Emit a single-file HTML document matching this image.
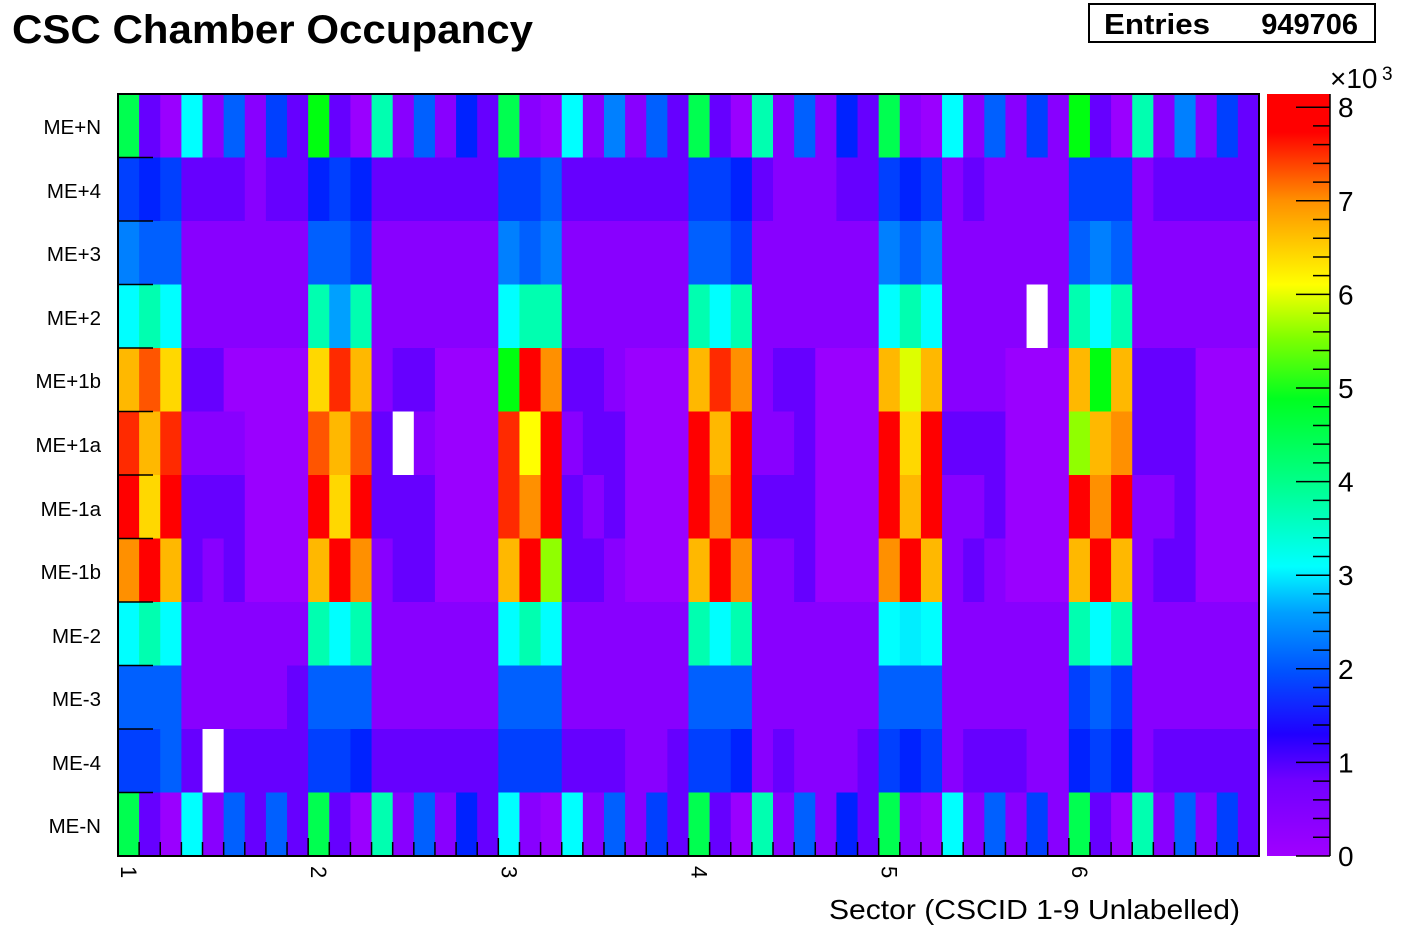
<!DOCTYPE html>
<html><head><meta charset="utf-8"><style>
body{margin:0;background:#fff;width:1402px;height:944px;overflow:hidden;font-family:"Liberation Sans",sans-serif;}
</style></head><body>
<svg id="s" width="1402" height="944" xmlns="http://www.w3.org/2000/svg" font-family="Liberation Sans, sans-serif">
<defs>
<linearGradient id="pal" x1="0" y1="1" x2="0" y2="0">
<stop offset="0" stop-color="#a000ff"/>
<stop offset="0.1" stop-color="#7000ff"/>
<stop offset="0.16" stop-color="#2000ff"/>
<stop offset="0.24" stop-color="#0050ff"/>
<stop offset="0.32" stop-color="#00a0ff"/>
<stop offset="0.38" stop-color="#00ffff"/>
<stop offset="0.5" stop-color="#00ff80"/>
<stop offset="0.6" stop-color="#00ff20"/>
<stop offset="0.68" stop-color="#80ff00"/>
<stop offset="0.75" stop-color="#ffff00"/>
<stop offset="0.86" stop-color="#ff9000"/>
<stop offset="0.92" stop-color="#ff3000"/>
<stop offset="0.95" stop-color="#ff0000"/>
<stop offset="1" stop-color="#ff0000"/>
</linearGradient>
</defs>
<g id="cells"></g>
<g id="ticks" stroke="#000" stroke-width="1.5"></g>
<rect x="118" y="94" width="1141" height="762" fill="none" stroke="#000" stroke-width="2"/>
<text x="12" y="43" font-size="40" font-weight="bold" textLength="521" lengthAdjust="spacingAndGlyphs">CSC Chamber Occupancy</text>
<rect x="1089" y="4" width="286" height="38" fill="#fff" stroke="#000" stroke-width="2"/>
<text x="1104" y="34" font-size="29" font-weight="bold" textLength="106" lengthAdjust="spacingAndGlyphs">Entries</text>
<text x="1358" y="34" font-size="29" font-weight="bold" text-anchor="end">949706</text>
<g font-size="20.5" text-anchor="end">
<text x="101" y="134">ME+N</text><text x="101" y="198">ME+4</text><text x="101" y="261">ME+3</text><text x="101" y="325">ME+2</text>
<text x="101" y="388">ME+1b</text><text x="101" y="452">ME+1a</text><text x="101" y="516">ME-1a</text><text x="101" y="579">ME-1b</text>
<text x="101" y="643">ME-2</text><text x="101" y="706">ME-3</text><text x="101" y="770">ME-4</text><text x="101" y="833">ME-N</text>
</g>
<g font-size="22" id="xl"></g>
<text x="829" y="919" font-size="28" textLength="411" lengthAdjust="spacingAndGlyphs">Sector (CSCID 1-9 Unlabelled)</text>
<rect x="1267" y="94" width="63" height="762" fill="url(#pal)"/>
<line x1="1330" y1="94" x2="1330" y2="856" stroke="#000" stroke-width="1.5"/>
<g id="pt" stroke="#000" stroke-width="1.5"></g>
<g font-size="28" id="pl"></g>
<text x="1330" y="88" font-size="28">×10</text><text x="1382" y="80" font-size="19">3</text>
</svg>
<script>
var C={a:'#9a00ff',b:'#8800ff',c:'#6600ff',d:'#0022ff',e:'#0040ff',f:'#0060ff',g:'#0080ff',x:'#00a0ff',z:'#00eeff',
h:'#00ffff',i:'#00ffb0',j:'#00ff50',k:'#00ff10',l:'#90ff00',y:'#ddff00',m:'#ffff00',n:'#ffd800',o:'#ffb800',p:'#ff9000',
q:'#ff5500',r:'#ff2a00',s:'#ff0000',w:'#ffffff'};
var S=[
["jcahbfbec","edecccbcc","gffbbbbbb","hihbbbbbb","oqnccaaaa","rorbbbaaa","snscccaaa","psocbcaaa","hihbbbbbb","fffbbbbbc","eefcwcccc","jcahbfcfc"],
["kcaibfbdc","dedcccccc","ffebbbbbb","ixibbbbbb","nrobccaaa","qoqcwbaaa","snscccaaa","ospbccaaa","ihibbbbbb","fffbbbbbb","eedcccccc","jcaibfbdc"],
["jbahbgbfc","eefcccccc","gfgbbbbbb","hiibbbbbb","kspccbaaa","rmsbccaaa","rpscbcaaa","oslccbaaa","hihbbbbbb","fffbbbbbb","eeecccbbc","hbahbfbec"],
["jcaibfbdc","eedcbbbcc","ffebbbbbb","ihibbbbbb","orpbccaaa","sosbbcaaa","spscccaaa","ospbbcaaa","ihibbbbbb","fffbbbbbb","eedbcbbbc","jcaibfbdc"],
["jbahbfbeb","edebcbbbb","gfgbbbbbb","hihbbbbwb","oyobbbaaa","snscccaaa","sosbbcaaa","psobcbaaa","hzhbbbbbb","fffbbbbbb","edebcccbb","jbahbfbeb"],
["kcaibgbec","eeebccccc","fgfbbbbbb","ihibbbbbb","okocccaaa","lopcccaaa","spsbbcaaa","osobccaaa","ihibbbbbb","efebbbbbb","dedbccccc","jcaibfbec"]];
var NS='http://www.w3.org/2000/svg',x0=118,w=1141/54,y0=94,h=762/12;
var g=document.getElementById('cells'),t=document.getElementById('ticks');
function el(p,n,a,txt){var e=document.createElementNS(NS,n);for(var k in a)e.setAttribute(k,a[k]);if(txt)e.textContent=txt;p.appendChild(e);return e;}
for(var s=0;s<6;s++)for(var r=0;r<12;r++)for(var c=0;c<9;c++){
var col=s*9+c;el(g,'rect',{x:(x0+col*w).toFixed(2),y:(y0+r*h).toFixed(2),width:(w+0.6).toFixed(2),height:(h+0.6).toFixed(2),fill:C[S[s][r][c]]});}
for(var r=1;r<12;r++){var yy=y0+r*h;el(t,'line',{x1:118,y1:yy,x2:153,y2:yy});}
for(var c=1;c<54;c++){var xx=x0+c*w;el(t,'line',{x1:xx,y1:856,x2:xx,y2:(c%9==0?838:842)});}
var xl=document.getElementById('xl');
for(var s=0;s<6;s++){var xx=x0+s*9*w+3;el(xl,'text',{transform:'translate('+xx+',866) rotate(90)'},String(s+1));}
var pt=document.getElementById('pt'),pl=document.getElementById('pl');
for(var v=0;v<=8;v++){var yy=856-v*93.6;el(pt,'line',{x1:1296,y1:yy,x2:1330,y2:yy});el(pl,'text',{x:1338,y:yy+10},String(v));
for(var m=1;m<5&&v<8;m++){var ym=yy-m*18.72;el(pt,'line',{x1:1313,y1:ym,x2:1330,y2:ym});}}
</script>
</body></html>
